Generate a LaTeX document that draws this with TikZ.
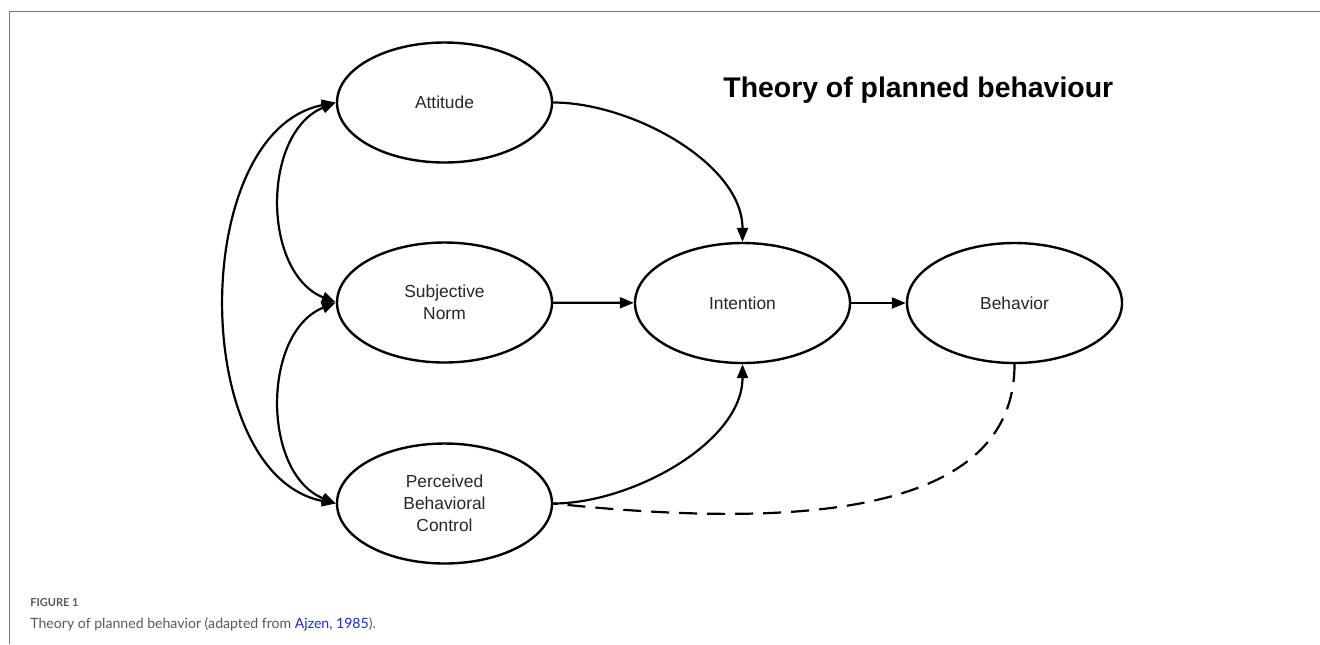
\documentclass[tikz,border=0pt]{standalone}
\usepackage{fontspec}
\setmainfont{Liberation Sans}
\newfontfamily\figcapfont{Lato}
\usepackage{xcolor}
\definecolor{FrameGray}{RGB}{118,118,128}
\definecolor{CaptionGray}{RGB}{88,88,88}
\definecolor{LinkBlue}{RGB}{28,42,200}
\usepackage{tikz}
\usetikzlibrary{
    arrows.meta,
    positioning,
    shapes.geometric
}
\tikzset{
    construct/.style={
        ellipse,
        draw,
        line width=1.2pt,
        minimum width=107.5pt,
        minimum height=60pt,
        inner sep=0pt,
        align=center,
        text=black!85,
        font=\fontsize{8.7pt}{11pt}\selectfont
    },
    link/.style={
        -{Triangle[length=7pt,width=5.5pt]},
        line width=1.1pt
    },
    twoway/.style={
        {Triangle[length=7pt,width=5.5pt]}-{Triangle[length=7pt,width=5.5pt]},
        line width=1.1pt
    },
    feedback/.style={
        line width=1.1pt,
        dash pattern=on 9pt off 5pt
    }
}

\begin{document}
\begin{tikzpicture}[x=0.5pt,y=0.5pt]
%
    \useasboundingbox
    (0,0)
    rectangle
    (1320,-644);
%
    \draw[
        FrameGray,
        line width=0.7pt
    ]
    (9.5,-644)
    --
    (9.5,-11.5)
    --
    (1320,-11.5);
%
    \node[construct] (att) at (444.5,-102.5) {Attitude};
    \node[construct] (sn)  at (444.5,-302.5) {Subjective\\Norm};
    \node[construct] (pbc) at (444.5,-503.5) {Perceived\\Behavioral\\Control};
    \node[construct] (int) at (742.5,-303)   {Intention};
    \node[construct] (bhv) at (1014.5,-303)  {Behavior};
%
    \node[
        anchor=base west,
        inner sep=0pt,
        font=\bfseries\fontsize{14.2pt}{17pt}\selectfont
    ]
    (title) at (723,-97) {
        Theory of planned behaviour
    };
%
    \draw[twoway]
    (att.west)
    .. controls +(191:150) and +(169:150) ..
    (pbc.west);
%
    \draw[twoway]
    (att.west)
    .. controls +(202:80) and +(158:80) ..
    (sn.west);
%
    \draw[twoway]
    (sn.west)
    .. controls +(202:80) and +(158:80) ..
    (pbc.west);
%
    \draw[link]
    (att.east)
    to[out=0,in=90,looseness=0.85]
    (int.north);
%
    \draw[link]
    (sn)
    --
    (int);
%
    \draw[link]
    (pbc.east)
    to[out=0,in=-90,looseness=0.85]
    (int.south);
%
    \draw[link]
    (int)
    --
    (bhv);
%
    \draw[feedback]
    (bhv.south)
    .. controls +(0,-150) and +(-6:250) ..
    (pbc.east);
%
    \node[
        anchor=base west,
        inner sep=0pt,
        text=CaptionGray,
        font=\figcapfont\bfseries\fontsize{5.5pt}{7pt}\selectfont
    ]
    (fignum) at (30,-606) {
        FIGURE 1
    };
%
    \node[
        anchor=base west,
        inner sep=0pt,
        text=CaptionGray,
        font=\figcapfont\fontsize{7.05pt}{9pt}\selectfont
    ]
    (caption) at (30,-628) {
        Theory of planned behavior (adapted from \textcolor{LinkBlue}{Ajzen, 1985}).
    };
%
\end{tikzpicture}
\end{document}
